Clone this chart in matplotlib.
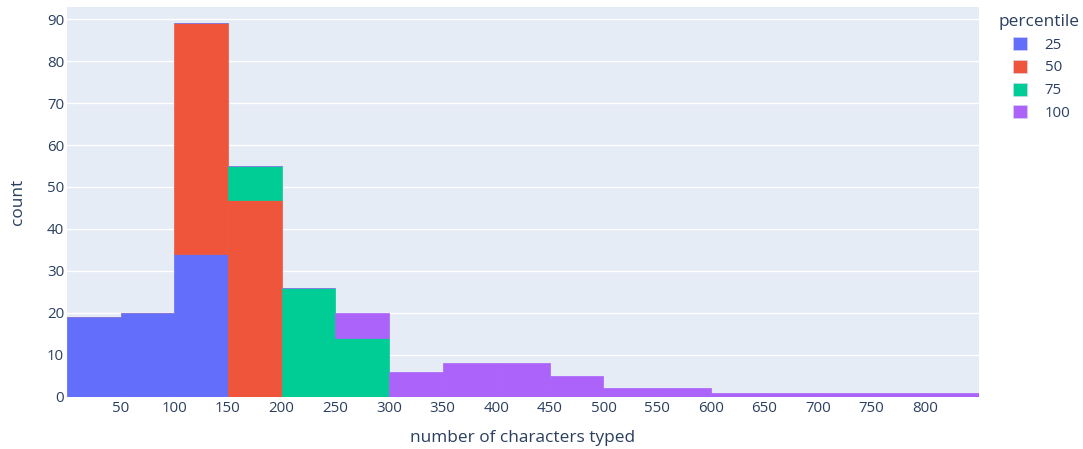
import numpy as np
import matplotlib.pyplot as plt
from matplotlib.patches import Patch

# bin edges (number of characters typed), 50 wide
bin_edges = np.arange(0, 851, 50)

# counts per bin for each percentile group
counts_25 = [19, 20, 34, 0, 0, 0, 0, 0, 0, 0, 0, 0, 0, 0, 0, 0, 0]
counts_50 = [0, 0, 55, 47, 0, 0, 0, 0, 0, 0, 0, 0, 0, 0, 0, 0, 0]
counts_75 = [0, 0, 0, 8, 26, 14, 0, 0, 0, 0, 0, 0, 0, 0, 0, 0, 0]
counts_100 = [0, 0, 0, 0, 0, 6, 6, 8, 8, 5, 2, 2, 1, 1, 1, 1, 1]

labels = ['25', '50', '75', '100']
colors = ['#636EFA', '#EF553B', '#00CC96', '#AB63FA']
x_ticks = list(range(50, 801, 50))
y_ticks = list(range(0, 91, 10))

plt.rcParams['font.family'] = ['Open Sans', 'DejaVu Sans']
text_color = '#2a3f5f'

fig = plt.figure(figsize=(10.83, 4.49), dpi=100)
ax = fig.add_axes([67 / 1083, 52.3 / 449, 912 / 1083, 389.7 / 449])
ax.set_facecolor('#E5ECF6')

left = bin_edges[:-1]
width = np.diff(bin_edges)
bottom = np.zeros(len(left))
for counts, lab, col in zip([counts_25, counts_50, counts_75, counts_100], labels, colors):
    counts = np.array(counts)
    ax.bar(left, counts, width=width, bottom=bottom, align='edge', color=col,
           edgecolor=col, linewidth=0.5, zorder=2)
    bottom = bottom + counts

ax.set_xlim(0, 850)
ax.set_ylim(0, 92.9)
ax.set_xticks(x_ticks)
ax.set_yticks(y_ticks)
ax.yaxis.grid(True, color='white', linewidth=1)
ax.set_axisbelow(True)
for s in ax.spines.values():
    s.set_visible(False)
ax.tick_params(length=0, labelsize=10.8, colors=text_color, pad=3)
ax.tick_params(axis='y', pad=2)

ax.set_xlabel('number of characters typed', fontsize=12.4, color=text_color, labelpad=10)
ax.set_ylabel('count', fontsize=12.4, color=text_color, labelpad=15)

# legend: title sits left of the indented swatches, like plotly
fig.text(999 / 1083, 1 - 22 / 449, 'percentile', fontsize=12.4, color=text_color,
         ha='left', va='center')
handles = [Patch(facecolor=c, edgecolor='#d8d8f0', linewidth=0.4) for c in colors]
leg = fig.legend(handles, labels, loc='upper left',
                 bbox_to_anchor=(1013 / 1083, 1 - 37 / 449), frameon=False,
                 fontsize=10.8, handlelength=0.95, handleheight=0.95,
                 handletextpad=1.15, labelspacing=0.48, borderaxespad=0,
                 borderpad=0)
plt.setp(leg.get_texts(), color=text_color)

fig.savefig('out.png', dpi=100, facecolor='white')
